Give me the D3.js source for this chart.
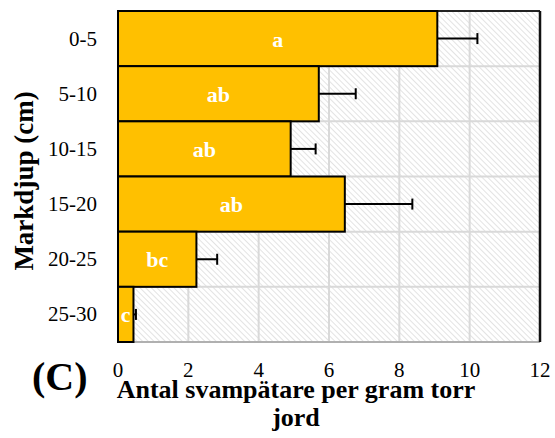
<!DOCTYPE html>
<html>
<head>
<meta charset="utf-8">
<script src="https://cdn.jsdelivr.net/npm/d3@7"></script>
<style>
  body { margin: 0; background: #fff; }
</style>
</head>
<body>
<div id="canvas"></div>
<script>
//data
var depths = ["0-5", "5-10", "10-15", "15-20", "20-25", "25-30"];
var means = [9.08, 5.71, 4.91, 6.45, 2.23, 0.44];
var errors = [1.14, 1.05, 0.71, 1.92, 0.59, 0.07];
var letters = ["a", "ab", "ab", "ab", "bc", "c"];
var xTicks = [0, 2, 4, 6, 8, 10, 12];

var canvasWidth = 555, canvasHeight = 438;
var plotLeft = 118, plotRight = 540, plotTop = 11, plotBottom = 342;
var barColor = "#FFC000";
var gridColor = "#d9d9d9";
var serif = "'Liberation Serif'";

var svg = d3.select("#canvas").append("svg")
            .attr("width", canvasWidth)
            .attr("height", canvasHeight)
            .attr("viewBox", "0 0 " + canvasWidth + " " + canvasHeight);

var x = d3.scaleLinear().domain([0, 12]).range([plotLeft, plotRight]);
var y = d3.scaleBand().domain(depths).range([plotTop, plotBottom]).padding(0);

//hatch pattern for the plot area (stripes falling to the right)
var defs = svg.append("defs");
var pat = defs.append("pattern")
              .attr("id", "hatch")
              .attr("patternUnits", "userSpaceOnUse")
              .attr("width", 4)
              .attr("height", 4)
              .attr("patternTransform", "rotate(45)");
pat.append("rect").attr("width", 4).attr("height", 4).attr("fill", "#fff");
pat.append("line")
   .attr("x1", 0).attr("y1", 0).attr("x2", 4).attr("y2", 0)
   .attr("stroke", "#dcdcdc")
   .attr("stroke-width", 1.6);

svg.append("rect")
   .attr("x", plotLeft)
   .attr("y", plotTop)
   .attr("width", plotRight - plotLeft)
   .attr("height", plotBottom - plotTop)
   .attr("fill", "url(#hatch)");

//gridlines
svg.append("g").selectAll("line.v")
   .data(xTicks.slice(1, -1))
   .enter().append("line")
   .attr("x1", d => x(d)).attr("x2", d => x(d))
   .attr("y1", plotTop).attr("y2", plotBottom)
   .attr("stroke", gridColor)
   .attr("stroke-width", 2);

svg.append("g").selectAll("line.h")
   .data(depths.slice(1))
   .enter().append("line")
   .attr("x1", plotLeft).attr("x2", plotRight)
   .attr("y1", d => y(d)).attr("y2", d => y(d))
   .attr("stroke", gridColor)
   .attr("stroke-width", 2);

//plot border
svg.append("line").attr("x1", plotLeft).attr("x2", plotLeft).attr("y1", plotTop).attr("y2", plotBottom)
   .attr("stroke", "#c8c8c8").attr("stroke-width", 2);
svg.append("line").attr("x1", plotLeft).attr("x2", plotRight).attr("y1", plotBottom).attr("y2", plotBottom)
   .attr("stroke", "#b0b0b0").attr("stroke-width", 2);
svg.append("line").attr("x1", plotLeft).attr("x2", plotRight).attr("y1", plotTop).attr("y2", plotTop)
   .attr("stroke", "#222").attr("stroke-width", 2);
svg.append("line").attr("x1", plotRight).attr("x2", plotRight).attr("y1", plotTop).attr("y2", plotBottom)
   .attr("stroke", "#111").attr("stroke-width", 2.5);

//bars
svg.append("g").selectAll("rect")
   .data(depths)
   .enter().append("rect")
   .attr("x", x(0))
   .attr("y", d => y(d))
   .attr("width", (d, i) => x(means[i]) - x(0))
   .attr("height", y.bandwidth())
   .attr("fill", barColor)
   .attr("stroke", "#000")
   .attr("stroke-width", 2);

//error bars
var eb = svg.append("g");
depths.forEach(function(d, i) {
    var cy = y(d) + y.bandwidth() / 2;
    eb.append("line")
      .attr("x1", x(means[i])).attr("x2", x(means[i] + errors[i]))
      .attr("y1", cy).attr("y2", cy)
      .attr("stroke", "#000").attr("stroke-width", 2);
    eb.append("line")
      .attr("x1", x(means[i] + errors[i])).attr("x2", x(means[i] + errors[i]))
      .attr("y1", cy - 5.5).attr("y2", cy + 5.5)
      .attr("stroke", "#000").attr("stroke-width", 2);
});

//letters in bars
svg.append("g").selectAll("text")
   .data(depths)
   .enter().append("text")
   .attr("x", (d, i) => (x(0) + x(means[i])) / 2)
   .attr("y", d => y(d) + y.bandwidth() / 2 + 8)
   .attr("text-anchor", "middle")
   .attr("fill", "#fff")
   .style("font-family", serif)
   .style("font-weight", "bold")
   .style("font-size", "22px")
   .text((d, i) => letters[i]);

//y tick labels
svg.append("g").selectAll("text")
   .data(depths)
   .enter().append("text")
   .attr("x", 97)
   .attr("y", d => y(d) + y.bandwidth() / 2 + 7)
   .attr("text-anchor", "end")
   .style("font-family", serif)
   .style("font-size", "21px")
   .attr("fill", "#000")
   .text(d => d);

//x tick labels
svg.append("g").selectAll("text")
   .data(xTicks)
   .enter().append("text")
   .attr("x", d => x(d))
   .attr("y", 377)
   .attr("text-anchor", "middle")
   .style("font-family", serif)
   .style("font-size", "21px")
   .attr("fill", "#000")
   .text(d => d);

//axis titles
var xTitle = svg.append("text")
   .attr("x", 296)
   .attr("y", 398)
   .attr("text-anchor", "middle")
   .style("font-family", serif)
   .style("font-weight", "bold")
   .style("font-size", "26px");
xTitle.append("tspan").attr("x", 296).attr("y", 398).text("Antal svampätare per gram torr");
xTitle.append("tspan").attr("x", 296).attr("y", 426).text("jord");

svg.append("text")
   .attr("transform", "translate(33,181) rotate(-90)")
   .attr("text-anchor", "middle")
   .style("font-family", serif)
   .style("font-weight", "bold")
   .style("font-size", "27px")
   .text("Markdjup (cm)");

svg.append("text")
   .attr("x", 32)
   .attr("y", 390)
   .style("font-family", serif)
   .style("font-weight", "bold")
   .style("font-size", "40px")
   .text("(C)");
</script>
</body>
</html>
